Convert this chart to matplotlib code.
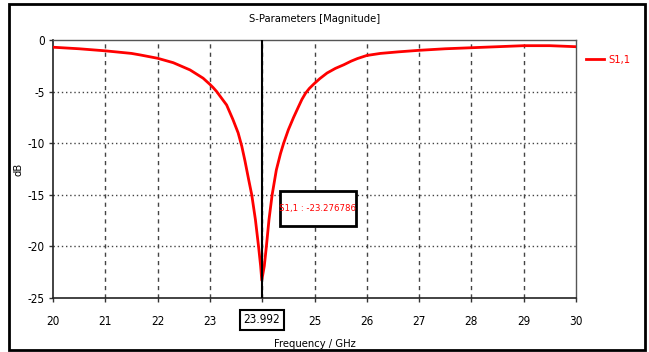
import matplotlib
matplotlib.use("Agg")
import matplotlib.pyplot as plt
from matplotlib.patches import Rectangle

plt.rcParams['font.family'] = ['DejaVu Sans']
plt.rcParams['font.stretch'] = 'condensed'

# S1,1 magnitude
freq = [20.0, 20.5, 21.0, 21.5, 21.67, 22.0, 22.3, 22.62, 22.87, 23.0, 23.06, 23.13,
        23.32, 23.44, 23.54, 23.61, 23.67, 23.74, 23.8, 23.87, 23.93, 23.97, 23.992,
        24.04, 24.08, 24.13, 24.19, 24.27, 24.35, 24.41, 24.5, 24.6, 24.7, 24.76,
        24.83, 24.9, 24.99, 25.1, 25.24, 25.4, 25.56, 25.7, 25.82, 26.0, 26.26,
        26.6, 27.0, 27.5, 28.0, 28.5, 29.0, 29.5, 30.0]
s11 = [-0.7, -0.85, -1.05, -1.3, -1.45, -1.77, -2.2, -2.9, -3.7, -4.3, -4.6, -5.0,
       -6.3, -7.7, -9.0, -10.3, -11.7, -13.5, -15.0, -17.4, -20.0, -21.9, -23.28,
       -21.9, -20.0, -17.4, -15.0, -12.6, -11.0, -10.0, -8.7, -7.5, -6.4, -5.75,
       -5.15, -4.7, -4.25, -3.75, -3.2, -2.75, -2.4, -2.05, -1.8, -1.5, -1.3,
       -1.15, -1.0, -0.85, -0.75, -0.65, -0.55, -0.55, -0.65]
xticks = [20, 21, 22, 23, 24, 25, 26, 27, 28, 29, 30]
xlabels = ['20', '21', '22', '23', '', '25', '26', '27', '28', '29', '30']
yticks = [0, -5, -10, -15, -20, -25]
marker_f = 23.992
marker_v = -23.276786

fs = 8

fig = plt.figure(figsize=(6.49, 3.52), dpi=100)
ax = fig.add_axes([53/649, 1-298/352, 523/649, 258/352])

# outer frame
fig.patches.append(Rectangle((9/649, 2/352), 636/649, 346/352, transform=fig.transFigure,
                             fill=False, edgecolor='black', lw=2))

ax.plot(freq, s11, color='red', lw=2, zorder=3)
ax.axvline(marker_f, color='black', lw=1.5, zorder=4)

ax.set_xlim(20, 30)
ax.set_ylim(-25, 0)
ax.set_xticks(xticks)
ax.set_xticklabels(xlabels)
ax.set_yticks(yticks)
ax.set_yticklabels([str(v) for v in yticks])
ax.tick_params(labelsize=8.5, length=3, width=1, color='#333333')
ax.tick_params(axis='x', pad=9)
ax.tick_params(axis='y', pad=3)

for x in xticks[1:-1]:
    ax.axvline(x, color='#444444', lw=1, ls=(0, (3, 3)), zorder=1)
for y in yticks[1:-1]:
    ax.axhline(y, color='#444444', lw=1, ls=(0, (1, 2)), zorder=1)

for s in ['left', 'bottom']:
    ax.spines[s].set_color('#222222')
    ax.spines[s].set_linewidth(1.2)
for s in ['top', 'right']:
    ax.spines[s].set_color('#555555')
    ax.spines[s].set_linewidth(1)

ax.set_title('S-Parameters [Magnitude]', fontsize=fs, pad=13)
ax.set_xlabel('Frequency / GHz', fontsize=fs)
ax.xaxis.set_label_coords(0.5, -0.16)
ax.set_ylabel('dB', fontsize=fs)
ax.yaxis.set_label_coords(-0.057, 0.5)

# marker frequency label
ax.text(marker_f, -27.1, '23.992', ha='center', va='center', fontsize=8.5,
        bbox=dict(boxstyle='square,pad=0.3', fc='white', ec='black', lw=1.5))

# marker value box
ax.add_patch(Rectangle((24.34, -18.0), 1.45, 3.4, fc='white', ec='black', lw=2, zorder=5))
ax.text(25.065, -16.3, 'S1,1 : %.6f' % marker_v, ha='center', va='center', fontsize=6.8,
        color='red', zorder=6)

# legend
ax.legend(['S1,1'], loc='upper left', bbox_to_anchor=(1.0, 0.98), frameon=False,
          fontsize=fs, labelcolor='red', handlelength=1.6, handletextpad=0.4)

fig.savefig('out.png', dpi=100)
